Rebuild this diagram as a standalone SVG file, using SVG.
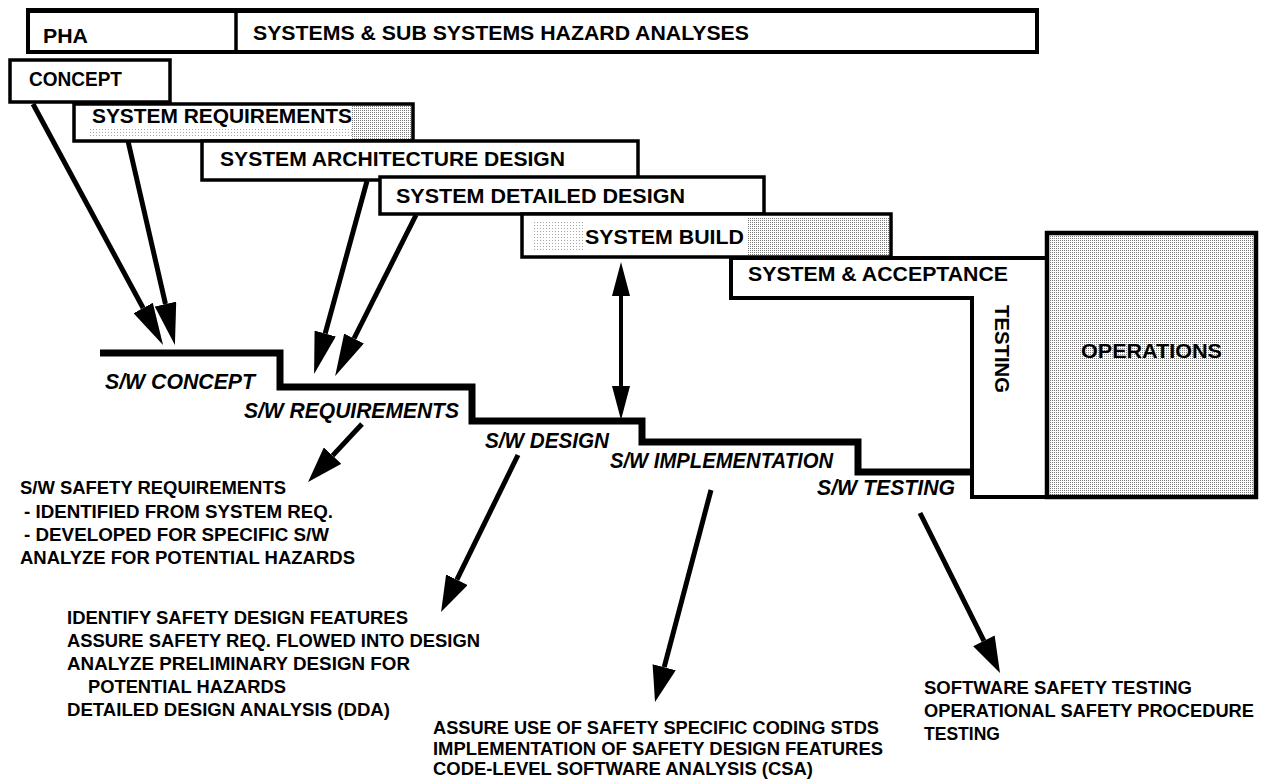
<svg xmlns="http://www.w3.org/2000/svg" width="1268" height="782" viewBox="0 0 1268 782">
<defs>
<style>
.box{fill:#fff;stroke:#000;stroke-width:3.5}
.lbl{font-family:"Liberation Sans",Arial,Helvetica,sans-serif;font-weight:bold;font-size:21px;fill:#000}
.sw{font-family:"Liberation Sans",Arial,Helvetica,sans-serif;font-weight:bold;font-style:italic;font-size:22px;fill:#000}
.note{font-family:"Liberation Sans",Arial,Helvetica,sans-serif;font-weight:bold;font-size:17.5px;fill:#000}
.arrA{fill:none;stroke:#000;stroke-width:5;marker-end:url(#headA)}
.arrB{fill:none;stroke:#000;stroke-width:5;marker-end:url(#headB)}
.step{fill:none;stroke:#000;stroke-width:7;stroke-linejoin:miter;stroke-linecap:butt}
</style>
<pattern id="dots" width="2" height="2" patternUnits="userSpaceOnUse"><rect width="2" height="2" fill="#fff"/><rect width="1" height="1" fill="#7a7a7a"/></pattern>
<pattern id="dotsLight" width="3" height="3" patternUnits="userSpaceOnUse"><rect width="3" height="3" fill="#fff"/><rect width="1" height="1" fill="#a8a8a8"/></pattern>
<marker id="headA" markerUnits="userSpaceOnUse" viewBox="0 0 42 22" markerWidth="42" markerHeight="22" refX="0" refY="11" orient="auto"><path d="M0,0 L42,11 L0,22 Z"/></marker>
<marker id="headB" markerUnits="userSpaceOnUse" viewBox="0 0 36 24" markerWidth="36" markerHeight="24" refX="0" refY="12" orient="auto"><path d="M0,0 L36,12 L0,24 Z"/></marker>
<marker id="headS" markerUnits="userSpaceOnUse" viewBox="0 0 34 18" markerWidth="34" markerHeight="18" refX="0" refY="9" orient="auto-start-reverse"><path d="M0,0 L34,9 L0,18 Z"/></marker>
</defs>
<rect width="1268" height="782" fill="#fff"/>

<g id="pha">
<rect class="box" x="28" y="10" width="1009" height="42" style="stroke-width:4"/>
<line x1="28" y1="10.5" x2="1037" y2="10.5" stroke="#000" stroke-width="5"/>
<line x1="236" y1="10" x2="236" y2="52" stroke="#000" stroke-width="3.5"/>
<text class="lbl" x="43" y="43" textLength="45" lengthAdjust="spacingAndGlyphs">PHA</text>
<text class="lbl" x="253" y="40" textLength="496" lengthAdjust="spacingAndGlyphs">SYSTEMS &amp; SUB SYSTEMS HAZARD ANALYSES</text>
</g>

<g id="concept">
<rect class="box" x="10" y="60" width="160" height="42"/>
<text class="lbl" x="29" y="86" textLength="93" lengthAdjust="spacingAndGlyphs">CONCEPT</text>
</g>

<g id="sysreq">
<rect class="box" x="74" y="104" width="339" height="37"/>
<rect x="90" y="127" width="262" height="11" fill="url(#dotsLight)"/>
<rect x="352" y="106" width="59" height="33" fill="url(#dots)"/>
<text class="lbl" x="92" y="123" textLength="260" lengthAdjust="spacingAndGlyphs">SYSTEM REQUIREMENTS</text>
</g>

<g id="arch">
<rect class="box" x="202" y="141" width="436" height="39"/>
<text class="lbl" x="220" y="166" textLength="345" lengthAdjust="spacingAndGlyphs">SYSTEM ARCHITECTURE DESIGN</text>
</g>

<g id="detailed">
<rect class="box" x="380" y="177" width="384" height="37"/>
<text class="lbl" x="396" y="203" textLength="289" lengthAdjust="spacingAndGlyphs">SYSTEM DETAILED DESIGN</text>
</g>

<g id="build">
<rect class="box" x="522" y="214" width="369" height="43"/>
<rect x="532" y="222" width="52" height="30" fill="url(#dotsLight)"/>
<rect x="748" y="217" width="141" height="38" fill="url(#dots)"/>
<text class="lbl" x="585" y="244" textLength="159" lengthAdjust="spacingAndGlyphs">SYSTEM BUILD</text>
</g>

<g id="testing">
<path d="M731,258 H1047 M731,256 V298 H972 V497 H1047" fill="none" stroke="#000" stroke-width="4"/>
<text class="lbl" x="748" y="281" textLength="260" lengthAdjust="spacingAndGlyphs">SYSTEM &amp; ACCEPTANCE</text>
<text class="lbl" transform="translate(995,349) rotate(90)" text-anchor="middle" textLength="88" lengthAdjust="spacingAndGlyphs">TESTING</text>
</g>

<g id="operations">
<rect x="1047" y="233" width="209" height="264" fill="url(#dots)" stroke="#000" stroke-width="4.5"/>
<text class="lbl" x="1081" y="358" textLength="141" lengthAdjust="spacingAndGlyphs">OPERATIONS</text>
</g>

<g id="steps">
<path class="step" d="M100,353 H280 V387 H472 V421 H642 V442 H858 V472 H974"/>
<text class="sw" x="105" y="389" textLength="150" lengthAdjust="spacingAndGlyphs">S/W CONCEPT</text>
<text class="sw" x="244" y="418" textLength="215" lengthAdjust="spacingAndGlyphs">S/W REQUIREMENTS</text>
<text class="sw" x="485" y="448" textLength="124" lengthAdjust="spacingAndGlyphs">S/W DESIGN</text>
<text class="sw" x="610" y="468" textLength="223" lengthAdjust="spacingAndGlyphs">S/W IMPLEMENTATION</text>
<text class="sw" x="817" y="495" textLength="138" lengthAdjust="spacingAndGlyphs">S/W TESTING</text>
</g>

<g id="connectors">
<path class="arrA" d="M33,104 L143.1,308"/>
<path class="arrA" d="M128,141 L165.5,304.1"/>
<path class="arrA" d="M367,181 L325.2,333.5"/>
<path class="arrA" d="M416,215 L354,338.5"/>
<path d="M621,296 L621,386" fill="none" stroke="#000" stroke-width="4" marker-start="url(#headS)" marker-end="url(#headS)"/>
<path class="arrB" d="M362,424 L332.6,455.6"/>
<path class="arrB" d="M518,455 L456.9,579.7"/>
<path class="arrB" d="M711,490 L664.2,667.2"/>
<path class="arrB" d="M920,513 L983.9,640.8"/>
</g>

<g id="note-req">
<text class="note" x="20" y="494" textLength="266" lengthAdjust="spacingAndGlyphs">S/W SAFETY REQUIREMENTS</text>
<text class="note" x="24" y="518" textLength="309" lengthAdjust="spacingAndGlyphs">- IDENTIFIED FROM SYSTEM REQ.</text>
<text class="note" x="24" y="541" textLength="305" lengthAdjust="spacingAndGlyphs">- DEVELOPED FOR SPECIFIC S/W</text>
<text class="note" x="20" y="564" textLength="335" lengthAdjust="spacingAndGlyphs">ANALYZE FOR POTENTIAL HAZARDS</text>
</g>

<g id="note-design">
<text class="note" x="67" y="624" textLength="341" lengthAdjust="spacingAndGlyphs">IDENTIFY SAFETY DESIGN FEATURES</text>
<text class="note" x="67" y="647" textLength="413" lengthAdjust="spacingAndGlyphs">ASSURE SAFETY REQ. FLOWED INTO DESIGN</text>
<text class="note" x="67" y="670" textLength="343" lengthAdjust="spacingAndGlyphs">ANALYZE PRELIMINARY DESIGN FOR</text>
<text class="note" x="88" y="693" textLength="198" lengthAdjust="spacingAndGlyphs">POTENTIAL HAZARDS</text>
<text class="note" x="67" y="716" textLength="323" lengthAdjust="spacingAndGlyphs">DETAILED DESIGN ANALYSIS (DDA)</text>
</g>

<g id="note-impl">
<text class="note" x="433" y="734" textLength="446" lengthAdjust="spacingAndGlyphs">ASSURE USE OF SAFETY SPECIFIC CODING STDS</text>
<text class="note" x="433" y="755" textLength="450" lengthAdjust="spacingAndGlyphs">IMPLEMENTATION OF SAFETY DESIGN FEATURES</text>
<text class="note" x="433" y="775" textLength="380" lengthAdjust="spacingAndGlyphs">CODE-LEVEL SOFTWARE ANALYSIS (CSA)</text>
</g>

<g id="note-test">
<text class="note" x="924" y="694" textLength="268" lengthAdjust="spacingAndGlyphs">SOFTWARE SAFETY TESTING</text>
<text class="note" x="924" y="717" textLength="330" lengthAdjust="spacingAndGlyphs">OPERATIONAL SAFETY PROCEDURE</text>
<text class="note" x="924" y="740" textLength="76" lengthAdjust="spacingAndGlyphs">TESTING</text>
</g>
</svg>
